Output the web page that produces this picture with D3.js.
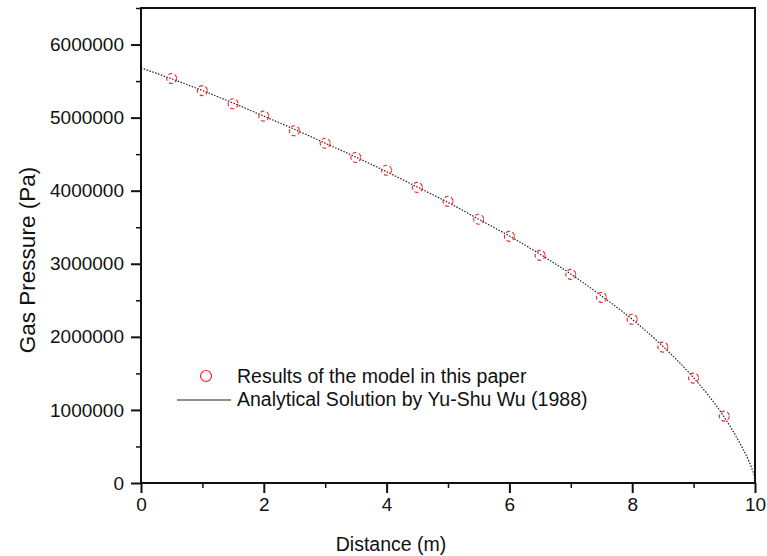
<!DOCTYPE html>
<html>
<head>
<meta charset="utf-8">
<script src="https://cdn.jsdelivr.net/npm/d3@7"></script>
<style>
  body { margin: 0; background: #fff; }
  text { font-family: "Liberation Sans", Arial, sans-serif; fill: #111; }
</style>
</head>
<body>
<svg width="767" height="556"></svg>
<script>
// model results (red circles)
var modelX = [0.5, 1, 1.5, 2, 2.5, 3, 3.5, 4, 4.5, 5, 5.5, 6, 6.5, 7, 7.5, 8, 8.5, 9, 9.5]
var modelP = [5535000, 5370000, 5190000, 5020000, 4820000, 4650000, 4455000, 4280000, 4045000,
              3855000, 3610000, 3375000, 3115000, 2855000, 2540000, 2240000, 1860000, 1435000, 915000]
// analytical solution (dotted line)
var solX = [0, 0.5, 1, 1.5, 2, 2.5, 3, 3.5, 4, 4.5, 5, 5.5, 6, 6.5, 7, 7.5, 8, 8.5, 9, 9.25, 9.5, 9.75, 9.9, 10]
var solP = [5680000, 5530000, 5370000, 5200000, 5020000, 4840000, 4650000, 4460000, 4260000, 4050000,
            3840000, 3610000, 3380000, 3130000, 2860000, 2560000, 2240000, 1870000, 1440000, 1190000,
            900000, 550000, 300000, 80000]
var xTicks = [0, 2, 4, 6, 8, 10]
var yTicks = [0, 1000000, 2000000, 3000000, 4000000, 5000000, 6000000]
var legendLabels = ["Results of the model in this paper", "Analytical Solution by Yu-Shu Wu (1988)"]

var svg = d3.select("svg")
var mLeft = 141, mRight = 755, mTop = 8, mBottom = 483

var x = d3.scaleLinear().domain([0, 10]).range([mLeft, mRight])
var y = d3.scaleLinear().domain([0, 6500000]).range([mBottom, mTop])

// minor ticks
svg.append("g")
  .attr("transform", "translate(0," + mBottom + ")")
  .call(d3.axisBottom(x).tickValues(d3.range(1, 10, 2)).tickSize(5).tickFormat(""))
  .call(g => g.select(".domain").remove())
  .selectAll("line").attr("stroke", "#111").attr("stroke-width", 1.5)
svg.append("g")
  .attr("transform", "translate(" + mLeft + ",0)")
  .call(d3.axisLeft(y).tickValues(d3.range(500000, 6600000, 1000000)).tickSize(5).tickFormat(""))
  .call(g => g.select(".domain").remove())
  .selectAll("line").attr("stroke", "#111").attr("stroke-width", 1.5)

// major ticks + labels
var xAxis = svg.append("g")
  .attr("transform", "translate(0," + mBottom + ")")
  .call(d3.axisBottom(x).tickValues(xTicks).tickSize(10).tickPadding(5).tickFormat(d3.format("d")))
xAxis.select(".domain").remove()
xAxis.selectAll("line").attr("stroke", "#111").attr("stroke-width", 2)
xAxis.selectAll("text").attr("font-size", 19).attr("fill", "#111")

var yAxis = svg.append("g")
  .attr("transform", "translate(" + mLeft + ",0)")
  .call(d3.axisLeft(y).tickValues(yTicks).tickSize(10).tickPadding(7).tickFormat(d3.format("d")))
yAxis.select(".domain").remove()
yAxis.selectAll("line").attr("stroke", "#111").attr("stroke-width", 2)
yAxis.selectAll("text").attr("font-size", 19).attr("fill", "#111")

// frame
svg.append("rect")
  .attr("x", mLeft).attr("y", mTop)
  .attr("width", mRight - mLeft).attr("height", mBottom - mTop)
  .attr("fill", "none").attr("stroke", "#111").attr("stroke-width", 2)

// analytical line
var line = d3.line().x((d, i) => x(solX[i])).y(d => y(d)).curve(d3.curveMonotoneX)
svg.append("path")
  .datum(solP)
  .attr("d", line)
  .attr("fill", "none")
  .attr("stroke", "#222")
  .attr("stroke-width", 1.2)
  .attr("stroke-dasharray", "1.5,1.5")

// model circles
svg.append("g").selectAll("circle")
  .data(modelP).enter()
  .append("circle")
  .attr("cx", (d, i) => x(modelX[i]))
  .attr("cy", d => y(d))
  .attr("r", 5)
  .attr("fill", "none")
  .attr("stroke", "#ff2020")
  .attr("stroke-width", 1.1)
  .attr("stroke-dasharray", "4,2.5")

// legend
var leg = svg.append("g")
leg.append("circle").attr("cx", 206).attr("cy", 376).attr("r", 5.5)
  .attr("fill", "none").attr("stroke", "#ff2020").attr("stroke-width", 1.2)
leg.append("line").attr("x1", 177).attr("x2", 231).attr("y1", 400).attr("y2", 400)
  .attr("stroke", "#222").attr("stroke-width", 1)
leg.selectAll("text.lab")
  .data(legendLabels).enter()
  .append("text")
  .attr("class", "lab")
  .attr("x", 237)
  .attr("y", (d, i) => 383 + i * 23)
  .attr("font-size", 19.5)
  .text(d => d)

// axis titles
svg.append("text")
  .attr("x", 391).attr("y", 551)
  .attr("text-anchor", "middle")
  .attr("font-size", 19.5)
  .text("Distance (m)")
svg.append("text")
  .attr("transform", "translate(35,260) rotate(-90)")
  .attr("text-anchor", "middle")
  .attr("font-size", 22.5)
  .text("Gas Pressure (Pa)")
</script>
</body>
</html>
